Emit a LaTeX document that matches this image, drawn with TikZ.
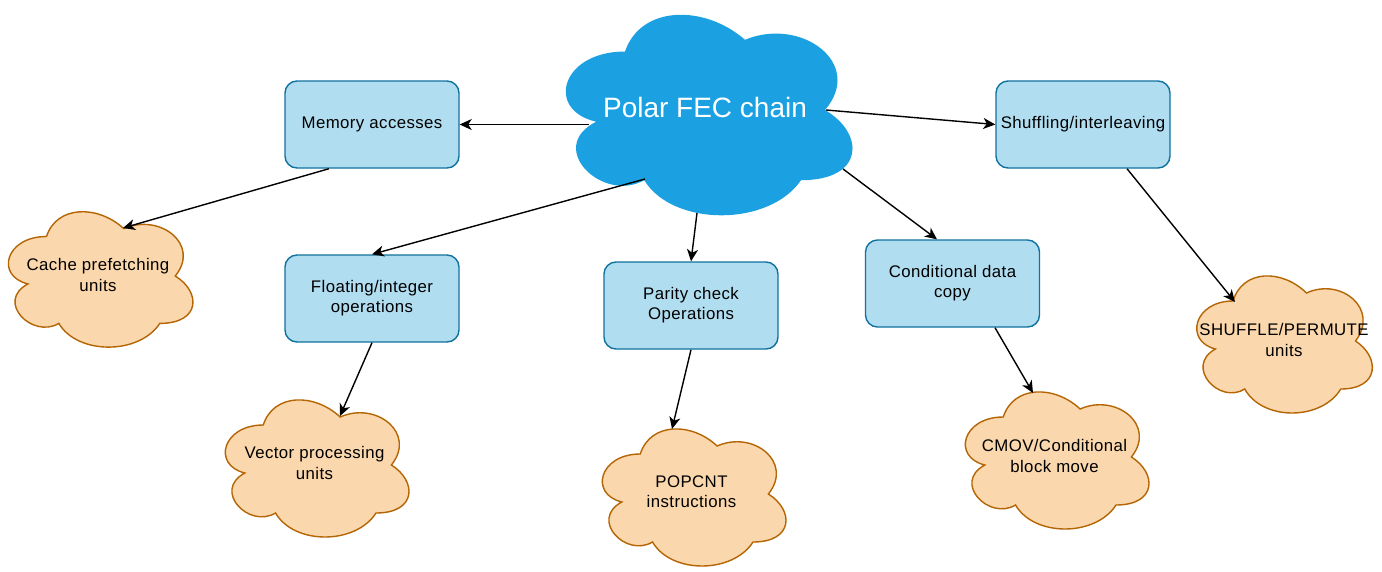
\documentclass[tikz,border=0pt]{standalone}
\usepackage{fontspec}
\setmainfont{Liberation Sans}[LetterSpace=2.5]
\newfontfamily\bigfont{Liberation Sans}
\usetikzlibrary{arrows.meta,calc}
\definecolor{boxfill}{HTML}{B1DDF0}
\definecolor{boxline}{HTML}{10739E}
\definecolor{cloudfill}{HTML}{FAD7AC}
\definecolor{cloudline}{HTML}{B46504}
\definecolor{mainblue}{HTML}{1BA1E2}
\newcommand\cloudshape[5]{%
  \begin{scope}[shift={(#1,#2)},x=#3pt,y=-#4pt]
    \path[#5] (0.25,0.25) .. controls (0.05,0.25) and (0,0.5) .. (0.16,0.55)
      .. controls (0,0.66) and (0.18,0.9) .. (0.31,0.8)
      .. controls (0.4,1) and (0.7,1) .. (0.8,0.8)
      .. controls (1,0.8) and (1,0.6) .. (0.875,0.5)
      .. controls (1,0.3) and (0.8,0.1) .. (0.625,0.2)
      .. controls (0.5,0.05) and (0.3,0.05) .. (0.25,0.25) -- cycle;
  \end{scope}}
\tikzset{
  txt/.style={align=center,font=\fontsize{16.8}{20.2}\selectfont,text=black,inner sep=0pt},
  procbox/.style={txt,draw=boxline,fill=boxfill,line width=1.4pt,rounded corners=12pt,
    minimum width=174pt,minimum height=87pt},
  orangecloud/.style={fill=cloudfill,draw=cloudline,line width=1.4pt},
  bluecloud/.style={fill=mainblue},
  arr/.style={line width=1.4pt,-{Stealth[length=12pt,width=11pt,inset=3.5pt]}},
}
\begin{document}
\begin{tikzpicture}[x=1pt,y=-1pt]
\useasboundingbox[fill=white] (0,0) rectangle (1382,571);
% central cloud
\cloudshape{545}{-7}{320}{234}{bluecloud}
\node[inner sep=0pt,text=white,font=\bigfont\fontsize{28}{33}\selectfont] (fec) at (705,107) {Polar FEC chain};
% boxes
\node[procbox] (mem) at (372,124.5) {Memory accesses};
\node[procbox] (shuf) at (1083,124.5) {Shuffling/interleaving};
\node[procbox] (float) at (372,298.5) {Floating/integer\\operations};
\node[procbox] (parity) at (691,305.5) {Parity check\\Operations};
\node[procbox] (cond) at (952.5,283.5) {Conditional data\\copy};
% orange clouds
\cloudshape{-5}{197}{206}{158}{orangecloud}
\node[txt] (cache) at (98,275) {Cache prefetching\\units};
\cloudshape{212}{385}{205}{160}{orangecloud}
\node[txt] (vec) at (314.5,463) {Vector processing\\units};
\cloudshape{589}{414}{205}{160}{orangecloud}
\node[txt] (pop) at (691.5,492) {POPCNT\\instructions};
\cloudshape{952}{377}{205}{160}{orangecloud}
\node[txt] (cmov) at (1054.5,456) {CMOV/Conditional\\block move};
\cloudshape{1184}{261}{196}{160}{orangecloud}
\node[txt] (perm) at (1284,340) {SHUFFLE/PERMUTE\\units};
% connector end points on cloud outlines
\coordinate (fecW) at (589,124.5);
\coordinate (fecE) at (826,110);
\coordinate (fecSW) at (645,179);
\coordinate (fecS) at (697,213);
\coordinate (fecSE) at (843,169);
\coordinate (cacheN) at (123,228);
\coordinate (vecN) at (340,416);
\coordinate (popN) at (672,429);
\coordinate (cmovN) at (1033,393);
\coordinate (permN) at (1235,302);
% connectors
\draw[arr] (fecW) -- (mem.east);
\draw[arr] (fecE) -- (shuf.west);
\draw[arr] (fecSW) -- (float.north);
\draw[arr] (fecS) -- (parity.north);
\draw[arr] (fecSE) -- ([xshift=-15.5pt]cond.north);
\draw[arr] ([xshift=-43pt]mem.south) -- (cacheN);
\draw[arr] (float.south) -- (vecN);
\draw[arr] (parity.south) -- (popN);
\draw[arr] ([xshift=42.5pt]cond.south) -- (cmovN);
\draw[arr] ([xshift=44pt]shuf.south) -- (permN);
\end{tikzpicture}
\end{document}
